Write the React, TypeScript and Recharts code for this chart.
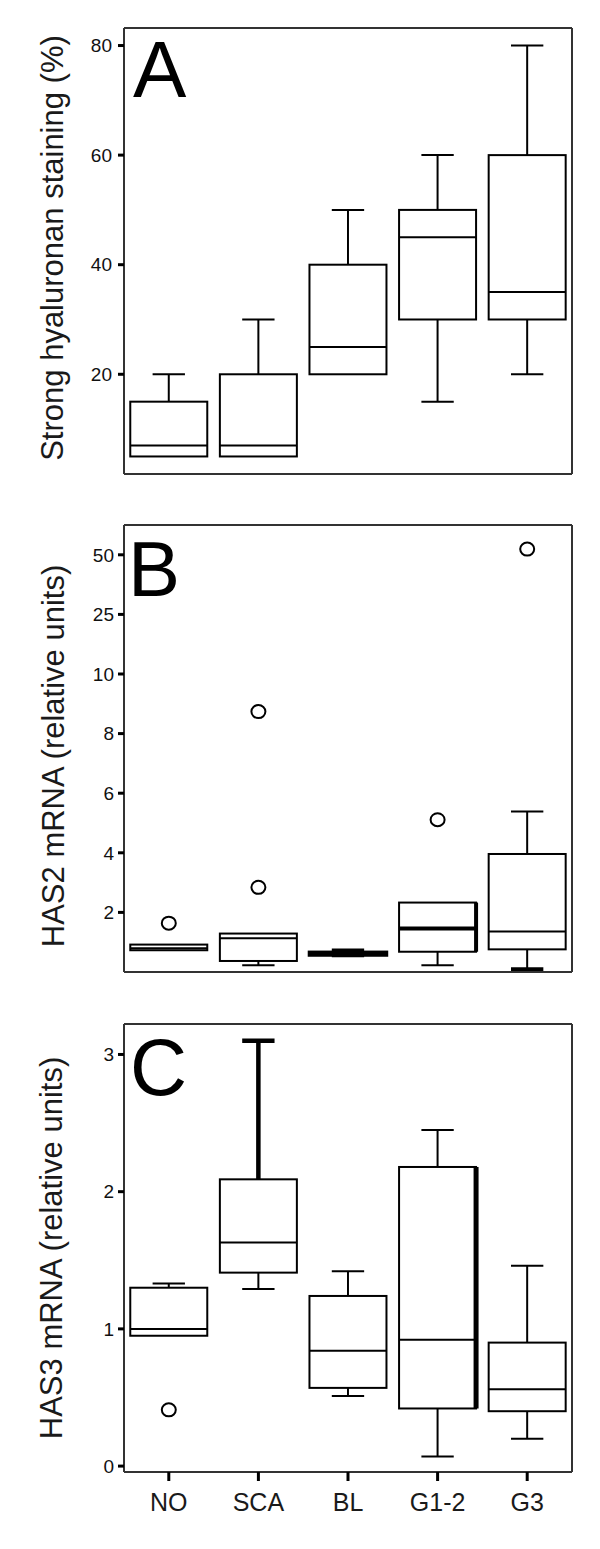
import React from 'react';
import { ComposedChart, Bar, Scatter, XAxis, YAxis, CartesianGrid } from 'recharts';

const categories = ['NO', 'SCA', 'BL', 'G1-2', 'G3'];

// Panel A – Strong hyaluronan staining (%)
const aMin = [5, 5, 20, 15, 20];
const aQ1 = [5, 5, 20, 30, 30];
const aMedian = [7, 7, 25, 45, 35];
const aQ3 = [15, 20, 40, 50, 60];
const aMax = [20, 30, 50, 60, 80];
const aOutliers: number[][] = [[], [], [], [], []];
const aTicks = [20, 40, 60, 80];

// Panel B – HAS2 mRNA (relative units), broken axis above 10
const bMin = [0.73, 0.23, 0.55, 0.23, 0.09];
const bQ1 = [0.73, 0.37, 0.57, 0.68, 0.76];
const bMedian = [0.8, 1.13, 0.6, 1.46, 1.36];
const bQ3 = [0.92, 1.29, 0.66, 2.33, 3.96];
const bMax = [0.92, 1.29, 0.73, 2.33, 5.39];
const bOutliers: number[][] = [[1.64], [8.74, 2.84], [], [5.11], [52.4]];
const bTicks = [2, 4, 6, 8, 10, 25, 50];

// Panel C – HAS3 mRNA (relative units)
const cMin = [0.95, 1.29, 0.51, 0.07, 0.2];
const cQ1 = [0.95, 1.41, 0.57, 0.42, 0.4];
const cMedian = [1.0, 1.63, 0.84, 0.92, 0.56];
const cQ3 = [1.3, 2.09, 1.24, 2.18, 0.9];
const cMax = [1.33, 3.1, 1.42, 2.45, 1.46];
const cOutliers: number[][] = [[0.41], [], [], [], []];
const cTicks = [0, 1, 2, 3];

const FONT = '"Liberation Sans", Arial, Helvetica, sans-serif';

// identity / broken-axis transforms
const ident = (v: number) => v;
const brokenB = (v: number) =>
  v <= 10 ? v : v <= 25 ? 10 + ((v - 10) * 2) / 15 : 12 + ((v - 25) * 2) / 25;

type Emph = { all?: number; median?: number; right?: number; upper?: number; lowCap?: number };
const emphasisA: Record<string, Emph> = {};
const emphasisB: Record<string, Emph> = {
  BL: { all: 3.5 },
  'G1-2': { median: 4, right: 4 },
  G3: { lowCap: 4 },
};
const emphasisC: Record<string, Emph> = {
  SCA: { upper: 4.5 },
  'G1-2': { right: 5 },
};

function buildRows(
  mins: number[], q1: number[], med: number[], q3: number[], max: number[],
  outs: number[][], tf: (v: number) => number,
) {
  return categories.map((c, i) => ({
    cat: c,
    range: [tf(mins[i]), tf(max[i])],
    lo: tf(mins[i]),
    q1: tf(q1[i]),
    med: tf(med[i]),
    q3: tf(q3[i]),
    hi: tf(max[i]),
    o1: outs[i][0] !== undefined ? tf(outs[i][0]) : null,
    o2: outs[i][1] !== undefined ? tf(outs[i][1]) : null,
  }));
}

const rowsA = buildRows(aMin, aQ1, aMedian, aQ3, aMax, aOutliers, ident);
const rowsB = buildRows(bMin, bQ1, bMedian, bQ3, bMax, bOutliers, brokenB);
const rowsC = buildRows(cMin, cQ1, cMedian, cQ3, cMax, cOutliers, ident);

const makeBoxShape = (emph: Record<string, Emph>) => (props: any) => {
  const { x, y, width, height, payload } = props;
  if (!payload || !isFinite(y) || !isFinite(height)) return <g />;
  const e: Emph = emph[payload.cat] || {};
  const top = Math.min(y, y + height);
  const bottom = Math.max(y, y + height);
  const span = payload.hi - payload.lo;
  const py = (v: number) => (span === 0 ? top : top + ((bottom - top) * (payload.hi - v)) / span);
  const cx = x + width / 2;
  const cap = width * 0.42;
  const base = e.all ?? 2;
  const yq3 = py(payload.q3);
  const yq1 = py(payload.q1);
  const ymed = py(payload.med);
  const yhi = py(payload.hi);
  const ylo = py(payload.lo);
  const up = e.upper ?? base;
  const lc = e.lowCap ?? base;
  return (
    <g>
      {payload.hi > payload.q3 && (
        <g stroke="#000" strokeWidth={up}>
          <line x1={cx} x2={cx} y1={yhi} y2={yq3} />
          <line x1={cx - cap / 2} x2={cx + cap / 2} y1={yhi} y2={yhi} />
        </g>
      )}
      {payload.lo < payload.q1 && (
        <g stroke="#000" strokeWidth={base}>
          <line x1={cx} x2={cx} y1={yq1} y2={ylo} />
          <line x1={cx - cap / 2} x2={cx + cap / 2} y1={ylo} y2={ylo} strokeWidth={lc} />
        </g>
      )}
      <rect x={x} y={yq3} width={width} height={Math.max(yq1 - yq3, 0.5)} fill="#fff" stroke="#000" strokeWidth={base} />
      {e.right && (
        <line x1={x + width} x2={x + width} y1={yq3} y2={yq1} stroke="#000" strokeWidth={e.right} />
      )}
      <line x1={x} x2={x + width} y1={ymed} y2={ymed} stroke="#000" strokeWidth={e.median ?? base} />
    </g>
  );
};

const outlierShape = (props: any) => {
  const { cx, cy } = props;
  if (!isFinite(cx) || !isFinite(cy)) return <g />;
  return <ellipse cx={cx} cy={cy} rx={7} ry={6.5} fill="#fff" stroke="#000" strokeWidth={2} />;
};

const FRAME = { stroke: '#333', strokeWidth: 2 };
const TICKLINE = { stroke: '#000', strokeWidth: 3 };

const frameH = (props: any) => {
  const o = props && props.offset;
  if (!o) return [];
  return [o.top, o.top + o.height];
};
const frameV = (props: any) => {
  const o = props && props.offset;
  if (!o) return [];
  return [o.left, o.left + o.width];
};

type PanelProps = {
  rows: any[];
  top: number;
  height: number;
  domain: [number, number];
  ticks: number[];
  tickFmt?: (v: number) => string;
  tickMargin: number;
  marginTop: number;
  marginBottom: number;
  xHeight: number;
  showXLabels: boolean;
  emph: Record<string, Emph>;
};

function Panel(p: PanelProps) {
  const shape = makeBoxShape(p.emph);
  return (
    <div style={{ position: 'absolute', left: 0, top: p.top, width: 600, height: p.height }}>
      <ComposedChart
        width={600}
        height={p.height}
        data={p.rows}
        margin={{ top: p.marginTop, right: 28, bottom: p.marginBottom, left: 64 }}
        barCategoryGap="7%"
      >
        <CartesianGrid
          horizontalCoordinatesGenerator={frameH}
          verticalCoordinatesGenerator={frameV}
          stroke="#333"
          strokeWidth={2}
          strokeDasharray=""
          fill="none"
        />
        <XAxis
          dataKey="cat"
          type="category"
          interval={0}
          height={p.xHeight}
          tickSize={9}
          tickMargin={12}
          stroke="#000"
          axisLine={FRAME}
          tickLine={TICKLINE}
          tick={p.showXLabels ? { fontSize: 25, fill: '#1a1a1a', fontFamily: FONT } : false}
        />
        <YAxis
          type="number"
          domain={p.domain}
          allowDataOverflow
          ticks={p.ticks}
          interval={0}
          width={60}
          tickSize={6}
          tickMargin={p.tickMargin}
          stroke="#000"
          axisLine={FRAME}
          tickLine={TICKLINE}
          tickFormatter={p.tickFmt}
          tick={{ fontSize: 19, fill: '#111', fontFamily: FONT }}
        />
        <Bar dataKey="range" shape={shape} isAnimationActive={false} />
        <Scatter dataKey="o1" shape={outlierShape} isAnimationActive={false} />
        <Scatter dataKey="o2" shape={outlierShape} isAnimationActive={false} />
      </ComposedChart>
    </div>
  );
}

const bTickPositions = bTicks.map(brokenB);
const bTickLabel = (v: number) => {
  const i = bTickPositions.findIndex((t) => Math.abs(t - v) < 1e-6);
  return i >= 0 ? String(bTicks[i]) : '';
};

export default function App() {
  return (
    <div style={{ position: 'absolute', left: 0, top: 0, width: 600, height: 1549, background: '#fff', fontFamily: FONT }}>
      <Panel rows={rowsA} top={0} height={500} domain={[1.8, 83.2]} ticks={aTicks} tickMargin={6}
        marginTop={28} marginBottom={0} xHeight={26} showXLabels={false} emph={emphasisA} />
      <Panel rows={rowsB} top={500} height={500} domain={[0, 15]} ticks={bTickPositions} tickFmt={bTickLabel}
        tickMargin={4} marginTop={25} marginBottom={0} xHeight={28} showXLabels={false} emph={emphasisB} />
      <Panel rows={rowsC} top={1000} height={549} domain={[-0.043, 3.222]} ticks={cTicks} tickMargin={4}
        marginTop={24} marginBottom={17} xHeight={60} showXLabels={true} emph={emphasisC} />
      <svg width={600} height={1549} style={{ position: 'absolute', left: 0, top: 0, pointerEvents: 'none' }}>
        <g fontFamily={FONT} fill="#000">
          <text x={133} y={97} fontSize={80}>A</text>
          <text x={128} y={596} fontSize={78}>B</text>
          <text x={130} y={1095} fontSize={79}>C</text>
        </g>
        <g fontFamily={FONT} fill="#1a1a1a" fontSize={31} textAnchor="middle">
          <text transform="translate(63,248) rotate(-90)">Strong hyaluronan staining (%)</text>
          <text transform="translate(64,756) rotate(-90)">HAS2 mRNA (relative units)</text>
          <text transform="translate(62,1248) rotate(-90)">HAS3 mRNA (relative units)</text>
        </g>
      </svg>
    </div>
  );
}
